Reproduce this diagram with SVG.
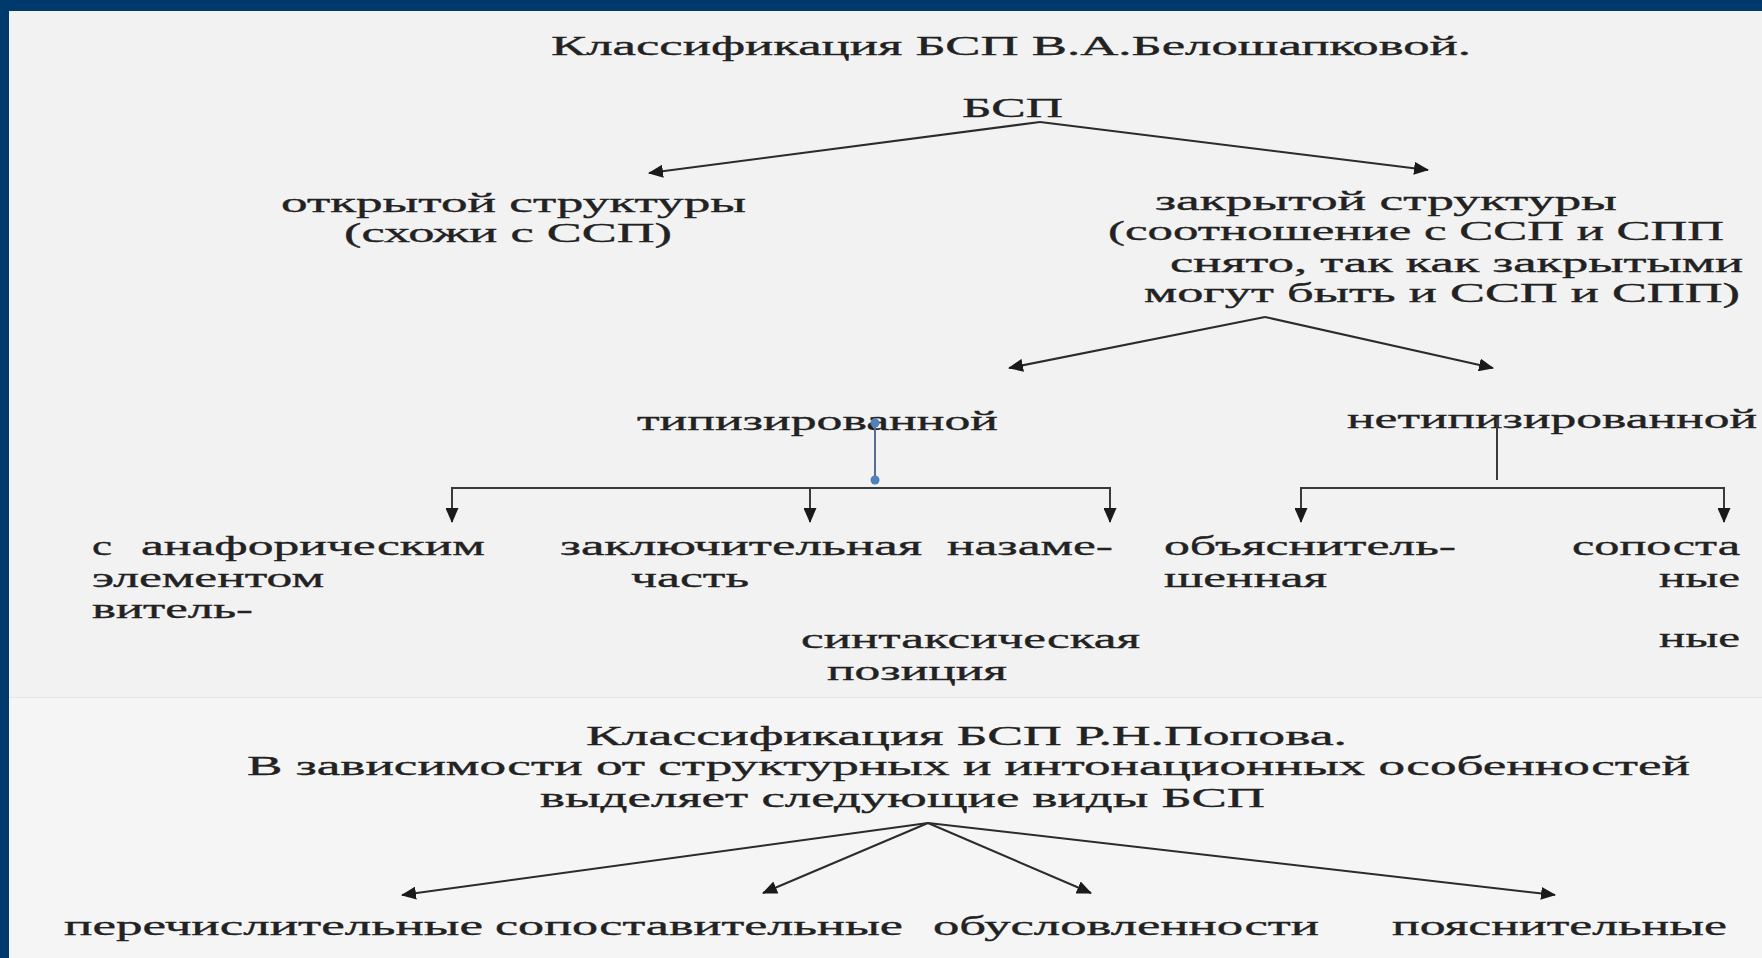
<svg xmlns="http://www.w3.org/2000/svg" width="1762" height="958" viewBox="0 0 1762 958">
<style>
text{font-family:"Liberation Serif","Times New Roman",serif;font-size:28px;fill:#222;stroke:#222;stroke-width:0.35}
.ln{stroke:#2b2b2b;stroke-width:2;fill:none}
.br{stroke:#3a3a3a;stroke-width:2;fill:none}
</style>
<defs>
<marker id="ah" markerUnits="userSpaceOnUse" markerWidth="15" markerHeight="13" refX="14" refY="6.5" orient="auto" viewBox="0 0 15 13">
<path d="M0,0 L15,6.5 L0,13 z" fill="#1a1a1a"/>
</marker>
</defs>
<rect x="0" y="0" width="1762" height="958" fill="#003a6c"/>
<rect x="9" y="11" width="1753" height="686" fill="#f2f2f2"/>
<rect x="9" y="697" width="1753" height="261" fill="#f5f5f5"/>
<line x1="9" y1="697.5" x2="1762" y2="697.5" stroke="#e6e6e6" stroke-width="1"/>

<g id="title1"><text x="551" y="55" textLength="920" lengthAdjust="spacingAndGlyphs">Классификация БСП В.А.Белошапковой.</text></g>
<g id="bsp"><text x="962" y="117" textLength="101" lengthAdjust="spacingAndGlyphs">БСП</text></g>
<g id="open">
<text x="281" y="212" textLength="465" lengthAdjust="spacingAndGlyphs">открытой структуры</text>
<text x="344" y="242" textLength="328" lengthAdjust="spacingAndGlyphs">(схожи с ССП)</text>
</g>
<g id="closed">
<text x="1155" y="210" textLength="462" lengthAdjust="spacingAndGlyphs">закрытой структуры</text>
<text x="1108" y="240" textLength="616" lengthAdjust="spacingAndGlyphs">(соотношение с ССП и СПП</text>
<text x="1170" y="272" textLength="573" lengthAdjust="spacingAndGlyphs">снято, так как закрытыми</text>
<text x="1144" y="302" textLength="596" lengthAdjust="spacingAndGlyphs">могут быть и ССП и СПП)</text>
</g>
<g id="typed"><text x="637" y="430" textLength="361" lengthAdjust="spacingAndGlyphs">типизированной</text></g>
<g id="untyped"><text x="1347" y="428" textLength="410" lengthAdjust="spacingAndGlyphs">нетипизированной</text></g>
<g id="anaphoric">
<text x="92" y="555" textLength="20" lengthAdjust="spacingAndGlyphs">с</text>
<text x="141" y="555" textLength="344" lengthAdjust="spacingAndGlyphs">анафорическим</text>
<text x="92" y="587" textLength="232" lengthAdjust="spacingAndGlyphs">элементом</text>
<text x="92" y="618" textLength="161" lengthAdjust="spacingAndGlyphs">витель-</text>
</g>
<g id="final">
<text x="560" y="555" textLength="362" lengthAdjust="spacingAndGlyphs">заключительная</text>
<text x="631" y="587" textLength="118" lengthAdjust="spacingAndGlyphs">часть</text>
</g>
<g id="substituted">
<text x="947" y="555" textLength="166" lengthAdjust="spacingAndGlyphs">назаме-</text>
<text x="801" y="648" textLength="339" lengthAdjust="spacingAndGlyphs">синтаксическая</text>
<text x="827" y="680" textLength="180" lengthAdjust="spacingAndGlyphs">позиция</text>
</g>
<g id="explanatory">
<text x="1164" y="555" textLength="292" lengthAdjust="spacingAndGlyphs">объяснитель-</text>
<text x="1164" y="587" textLength="163" lengthAdjust="spacingAndGlyphs">шенная</text>
</g>
<g id="comparative">
<text x="1572" y="555" textLength="168" lengthAdjust="spacingAndGlyphs">сопоста</text>
<text x="1659" y="587" textLength="81" lengthAdjust="spacingAndGlyphs">ные</text>
<text x="1659" y="647" textLength="81" lengthAdjust="spacingAndGlyphs">ные</text>
</g>
<g id="title2">
<text x="586" y="745" textLength="761" lengthAdjust="spacingAndGlyphs">Классификация БСП Р.Н.Попова.</text>
<text x="247" y="775" textLength="1443" lengthAdjust="spacingAndGlyphs">В зависимости от структурных и интонационных особенностей</text>
<text x="540" y="807" textLength="725" lengthAdjust="spacingAndGlyphs">выделяет следующие виды БСП</text>
</g>
<g id="enum"><text x="64" y="935" textLength="419" lengthAdjust="spacingAndGlyphs">перечислительные</text></g>
<g id="compar"><text x="495" y="935" textLength="408" lengthAdjust="spacingAndGlyphs">сопоставительные</text></g>
<g id="cond"><text x="933" y="935" textLength="386" lengthAdjust="spacingAndGlyphs">обусловленности</text></g>
<g id="expl"><text x="1392" y="935" textLength="335" lengthAdjust="spacingAndGlyphs">пояснительные</text></g>

<g id="connectors">
<line class="ln" x1="1040" y1="122" x2="649" y2="173" marker-end="url(#ah)"/>
<line class="ln" x1="1040" y1="122" x2="1428" y2="170" marker-end="url(#ah)"/>
<line class="ln" x1="1265" y1="317" x2="1009" y2="368" marker-end="url(#ah)"/>
<line class="ln" x1="1265" y1="317" x2="1493" y2="368" marker-end="url(#ah)"/>
<line x1="875" y1="423" x2="875" y2="480" stroke="#5a6f8f" stroke-width="2"/>
<circle cx="875" cy="423" r="4.5" fill="#4f81bd"/>
<circle cx="875" cy="480" r="4.5" fill="#4f81bd"/>
<polyline class="br" points="452,522 452,488 1110,488 1110,522" marker-end="url(#ah)"/>
<line class="br" x1="452" y1="489" x2="452" y2="522" marker-end="url(#ah)"/>
<line class="br" x1="810" y1="488" x2="810" y2="522" marker-end="url(#ah)"/>
<line class="br" x1="1497" y1="418" x2="1497" y2="480"/>
<polyline class="br" points="1301,522 1301,488 1724,488 1724,522" marker-end="url(#ah)"/>
<line class="br" x1="1301" y1="489" x2="1301" y2="522" marker-end="url(#ah)"/>
<line class="ln" x1="928" y1="823" x2="402" y2="895" marker-end="url(#ah)"/>
<line class="ln" x1="928" y1="823" x2="763" y2="893" marker-end="url(#ah)"/>
<line class="ln" x1="928" y1="823" x2="1091" y2="893" marker-end="url(#ah)"/>
<line class="ln" x1="928" y1="823" x2="1555" y2="895" marker-end="url(#ah)"/>
</g>
</svg>
